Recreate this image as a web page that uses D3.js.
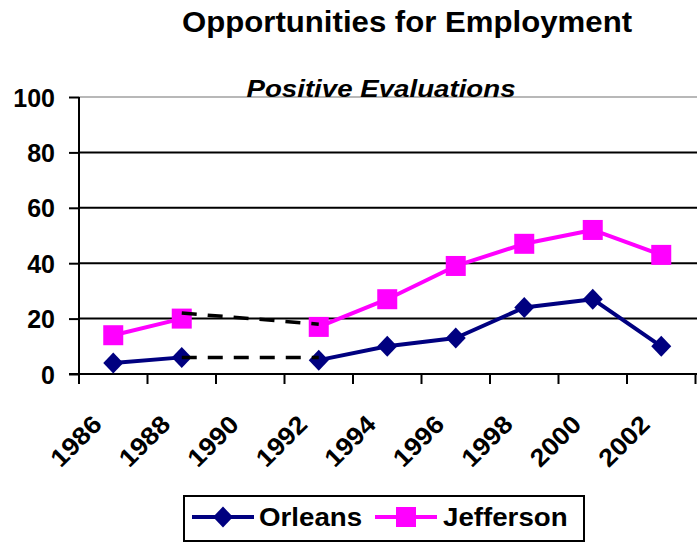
<!DOCTYPE html>
<html>
<head>
<meta charset="utf-8">
<script src="https://cdn.jsdelivr.net/npm/d3@7/dist/d3.min.js"></script>
<style>
  html, body { margin: 0; padding: 0; background: #fff; }
  svg { display: block; font-family: "Liberation Sans", Arial, sans-serif; font-weight: bold; }
</style>
</head>
<body>
<div id="chart"></div>
<script>
const years = ['1986', '1988', '1990', '1992', '1994', '1996', '1998', '2000', '2002'];
const orleans = [4, 6, null, 5, 10, 13, 24, 27, 10];
const jefferson = [14, 20, null, 17, 27, 39, 47, 52, 43];
// dashed bridges over the missing 1990 survey
const orleansGap = [null, 6, null, 6, null, null, null, null, null];
const jeffersonGap = [null, 22, null, 18, null, null, null, null, null];
const yTicks = [0, 20, 40, 60, 80, 100];

const width = 697;
const height = 543;
const plot = { left: 79, right: 695.5, top: 97, bottom: 374 };
// the original picture is a little wider than tall, text looks stretched
const stretch = 1.08;

const svg = d3.select('#chart')
  .append('svg')
  .attr('width', width)
  .attr('height', height)
  .attr('viewBox', [0, 0, width, height]);

const x = d3.scaleBand().domain(years).range([plot.left, plot.right]).padding(0);
const cx = (i) => x(years[i]) + x.bandwidth() / 2;
const y = d3.scaleLinear().domain([0, 100]).range([plot.bottom, plot.top]);

function label(sel, tx, ty, txt, size, sx = stretch) {
  return sel.append('text')
    .attr('transform', `translate(${tx},${ty}) scale(${sx},1)`)
    .style('font-size', `${size}px`)
    .text(txt);
}

// titles
label(svg, 407, 32, 'Opportunities for Employment', 29, 1.075)
  .attr('text-anchor', 'middle');

// gridlines
svg.append('g')
  .selectAll('line')
  .data(yTicks.filter((d) => d > 0))
  .join('line')
  .attr('x1', plot.left).attr('x2', width)
  .attr('y1', (d) => y(d)).attr('y2', (d) => y(d))
  .attr('stroke', (d) => (d === 100 ? '#a0a0a0' : '#000'))
  .attr('stroke-width', (d) => (d === 100 ? 1.5 : 2));

label(svg, 381, 97, 'Positive Evaluations', 24.5, 1.13)
  .attr('text-anchor', 'middle')
  .style('font-style', 'italic');

// y axis
const yAxis = svg.append('g')
  .attr('transform', `translate(${plot.left},0)`)
  .call(d3.axisLeft(y).tickValues(yTicks).tickSize(10).tickPadding(14));
yAxis.select('.domain').attr('stroke', '#000').attr('stroke-width', 2).attr('d', `M0,${plot.top}V${plot.bottom + 10}`);
yAxis.selectAll('.tick line').attr('stroke', '#000').attr('stroke-width', 2);
yAxis.selectAll('text')
  .attr('dy', '0.36em')
  .style('font-size', '25px')
  .style('font-family', '"Liberation Sans", Arial, sans-serif')
  .style('font-weight', 'bold')
  .attr('fill', '#000');

// x axis: ticks on category boundaries, labels at category centres
const xAxis = svg.append('g').attr('transform', `translate(0,${plot.bottom})`);
xAxis.append('line')
  .attr('x1', plot.left - 10).attr('x2', width)
  .attr('stroke', '#000').attr('stroke-width', 2);
xAxis.selectAll('.xtick')
  .data(years.map((d) => x(d)).concat([plot.right]))
  .join('line')
  .attr('class', 'xtick')
  .attr('x1', (d) => d).attr('x2', (d) => d)
  .attr('y1', 0).attr('y2', 10)
  .attr('stroke', '#000').attr('stroke-width', 2);
xAxis.selectAll('.xlabel')
  .data(years)
  .join('text')
  .attr('class', 'xlabel')
  .attr('text-anchor', 'end')
  .attr('transform', (d, i) => `translate(${cx(i) - 10},${52}) rotate(-45) scale(${stretch},1)`)
  .style('font-size', '25px')
  .text((d) => d);

// series
const series = [
  { name: 'Orleans', values: orleans, color: '#000080', marker: 'diamond' },
  { name: 'Jefferson', values: jefferson, color: '#ff00ff', marker: 'square' },
];

const line = d3.line()
  .defined((d) => d.v != null)
  .x((d) => cx(d.i))
  .y((d) => y(d.v));

const pts = (vals) => vals.map((v, i) => ({ v, i }));

function drawMarker(g, type, color, px, py) {
  if (type === 'square') {
    g.append('rect')
      .attr('x', px - 10).attr('y', py - 10)
      .attr('width', 20).attr('height', 20)
      .attr('fill', color);
  } else {
    g.append('path')
      .attr('d', `M${px},${py - 10.5}L${px + 10},${py}L${px},${py + 10.5}L${px - 10},${py}Z`)
      .attr('fill', color);
  }
}

series.forEach((s) => {
  svg.append('path')
    .attr('d', line(pts(s.values)))
    .attr('fill', 'none')
    .attr('stroke', s.color)
    .attr('stroke-width', 4)
    .attr('stroke-linejoin', 'round');
});

series.forEach((s) => {
  const g = svg.append('g');
  pts(s.values).filter((d) => d.v != null)
    .forEach((d) => drawMarker(g, s.marker, s.color, cx(d.i), y(d.v)));
});

// dashed gap lines, drawn over markers
[orleansGap, jeffersonGap].forEach((vals) => {
  svg.append('path')
    .attr('d', line(pts(vals).filter((d) => d.v != null)))
    .attr('fill', 'none')
    .attr('stroke', '#000')
    .attr('stroke-width', 3.5)
    .attr('stroke-dasharray', '15,11');
});

// legend
const legend = svg.append('g');
legend.append('rect')
  .attr('x', 184).attr('y', 496)
  .attr('width', 400).attr('height', 45)
  .attr('fill', '#fff')
  .attr('stroke', '#000')
  .attr('stroke-width', 2);

const legendItems = [
  { s: series[0], lx: 192, tx: 259 },
  { s: series[1], lx: 375, tx: 443 },
];
legendItems.forEach(({ s, lx, tx }) => {
  const ly = 517;
  legend.append('line')
    .attr('x1', lx).attr('x2', lx + 62)
    .attr('y1', ly).attr('y2', ly)
    .attr('stroke', s.color).attr('stroke-width', 4);
  drawMarker(legend, s.marker, s.color, lx + 31, ly);
  label(legend, tx, ly + 9, s.name, 26, 1.065);
});
</script>
</body>
</html>
